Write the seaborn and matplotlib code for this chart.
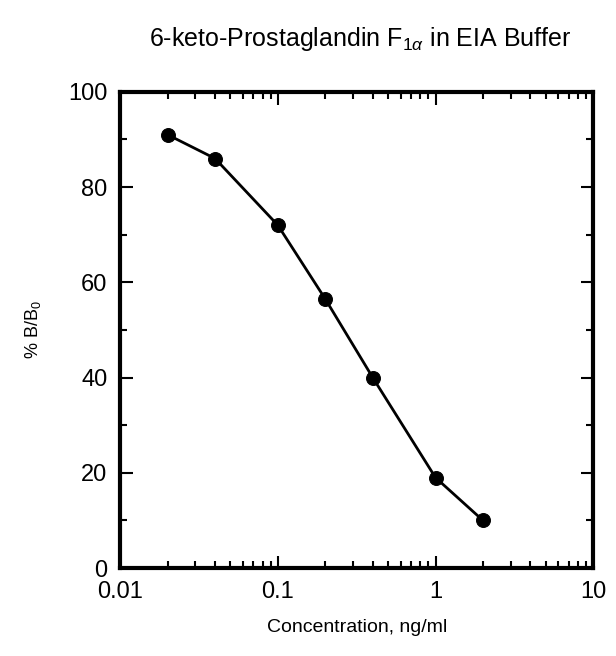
#%% Import Libraries
import numpy as np
import pandas as pd
import seaborn as sns
import matplotlib
matplotlib.use("Agg")
import matplotlib.pyplot as plt
from matplotlib.ticker import FixedLocator, FixedFormatter, LogLocator, NullFormatter

#%% Data
conc = [0.02, 0.04, 0.1, 0.2, 0.4, 1.0, 2.0]
pct_b_b0 = [91, 86, 72, 56.5, 40, 19, 10]
df = pd.DataFrame({"conc": conc, "pct": pct_b_b0})

#%% Plot
sns.set_style("ticks")
plt.rcParams['font.family'] = ['Liberation Sans', 'DejaVu Sans']
plt.rcParams['mathtext.fontset'] = 'custom'
plt.rcParams['mathtext.rm'] = 'Liberation Sans'
plt.rcParams['mathtext.it'] = 'Liberation Sans:italic'
plt.rcParams['text.color'] = 'black'
plt.rcParams['axes.labelcolor'] = 'black'
plt.rcParams['xtick.color'] = 'black'
plt.rcParams['ytick.color'] = 'black'
plt.rcParams['axes.edgecolor'] = 'black'

fig = plt.figure(figsize=(6.16, 6.56), dpi=100)
ax = fig.add_axes([0.195, 0.134, 0.768, 0.726])
sns.lineplot(data=df, x="conc", y="pct", ax=ax, color="black", lw=2,
             marker="o", markersize=10, markeredgecolor="black")
ax.set_xscale("log")
ax.set_xlim(0.01, 10)
ax.set_ylim(0, 100)
ax.set_yticks([0, 20, 40, 60, 80, 100])
ax.yaxis.set_minor_locator(FixedLocator([10, 30, 50, 70, 90]))
ax.xaxis.set_major_locator(FixedLocator([0.01, 0.1, 1, 10]))
ax.xaxis.set_major_formatter(FixedFormatter(["0.01", "0.1", "1", "10"]))
ax.xaxis.set_minor_locator(LogLocator(base=10, subs=np.arange(2, 10)))
ax.xaxis.set_minor_formatter(NullFormatter())
for s in ax.spines.values():
    s.set_linewidth(3)
ax.tick_params(which="both", direction="in", top=True, right=True, width=1.5, labelsize=17)
ax.tick_params(axis="y", pad=9)
ax.tick_params(axis="x", pad=9)
ax.tick_params(which="major", length=9)
ax.tick_params(which="minor", length=5)
ax.set_xlabel("Concentration, ng/ml", fontsize=14, labelpad=12)
ax.set_ylabel("% B/B$_0$", fontsize=13, labelpad=18)
fig.suptitle(r"6-keto-Prostaglandin F$_{1\alpha}$ in EIA Buffer", fontsize=18, x=0.585, y=0.962)
fig.savefig("out.png", dpi=100)
